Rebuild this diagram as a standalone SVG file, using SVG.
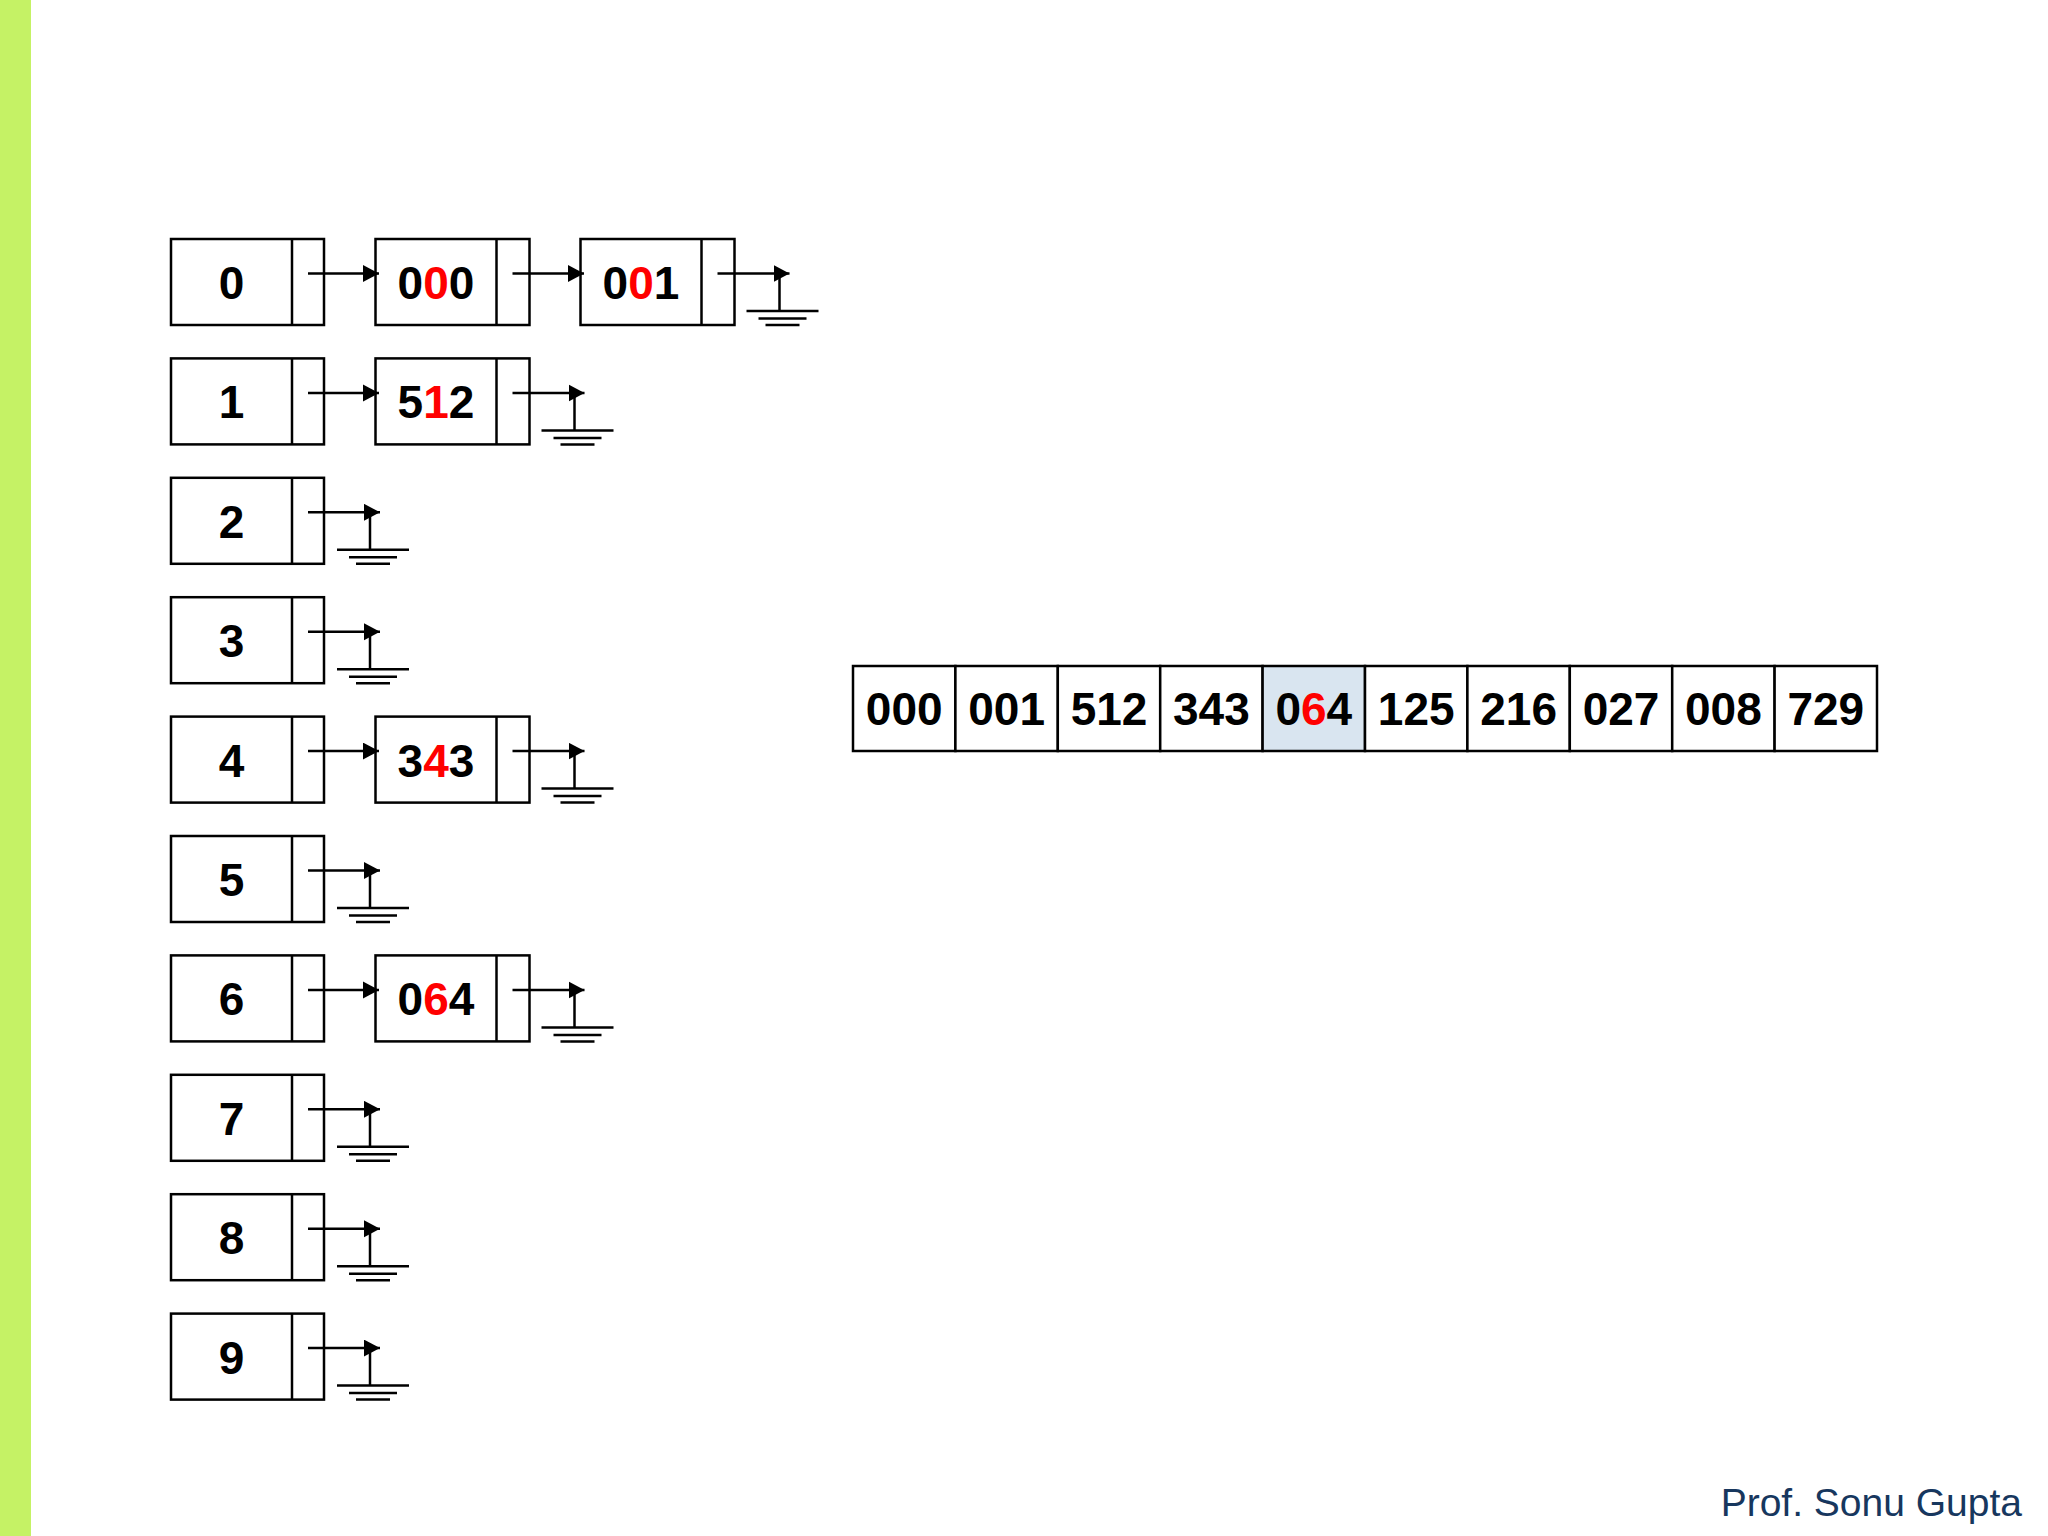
<svg xmlns="http://www.w3.org/2000/svg" width="2048" height="1536" viewBox="0 0 2048 1536">
<style>
.box{fill:#fff;stroke:#000;stroke-width:2.5}
.hl{fill:#D9E5F0;stroke:#000;stroke-width:2.5}
.ln{stroke:#000;stroke-width:2.5;fill:none}
.t{font-family:"Liberation Sans",Arial,sans-serif;font-weight:bold;font-size:46px;text-anchor:middle;fill:#000}
.r{fill:#FF0000}
.g{stroke:#000;stroke-width:2.5;fill:none}
</style>
<defs>
<marker id="ah" markerUnits="userSpaceOnUse" markerWidth="17" markerHeight="18" refX="16" refY="8.5" orient="auto">
<path d="M0,0 L16,8.5 L0,17 z" fill="#000"/>
</marker>
<g id="gnd">
<line class="g" x1="78" y1="34.5" x2="78" y2="72"/>
<line class="g" x1="45" y1="72" x2="117" y2="72"/>
<line class="g" x1="57" y1="79.5" x2="105" y2="79.5"/>
<line class="g" x1="64" y1="86" x2="98" y2="86"/>
</g>
</defs>
<rect x="0" y="0" width="31" height="1536" fill="#C5F265"/>

<!-- index boxes -->
<g id="idx0" transform="translate(0,239)"><rect class="box" x="171" y="0" width="153" height="86"/><line class="ln" x1="292" y1="0" x2="292" y2="86"/><text class="t" x="231.5" y="60">0</text></g>
<g id="idx1" transform="translate(0,358.4)"><rect class="box" x="171" y="0" width="153" height="86"/><line class="ln" x1="292" y1="0" x2="292" y2="86"/><text class="t" x="231.5" y="60">1</text></g>
<g id="idx2" transform="translate(0,477.8)"><rect class="box" x="171" y="0" width="153" height="86"/><line class="ln" x1="292" y1="0" x2="292" y2="86"/><text class="t" x="231.5" y="60">2</text></g>
<g id="idx3" transform="translate(0,597.2)"><rect class="box" x="171" y="0" width="153" height="86"/><line class="ln" x1="292" y1="0" x2="292" y2="86"/><text class="t" x="231.5" y="60">3</text></g>
<g id="idx4" transform="translate(0,716.6)"><rect class="box" x="171" y="0" width="153" height="86"/><line class="ln" x1="292" y1="0" x2="292" y2="86"/><text class="t" x="231.5" y="60">4</text></g>
<g id="idx5" transform="translate(0,836)"><rect class="box" x="171" y="0" width="153" height="86"/><line class="ln" x1="292" y1="0" x2="292" y2="86"/><text class="t" x="231.5" y="60">5</text></g>
<g id="idx6" transform="translate(0,955.4)"><rect class="box" x="171" y="0" width="153" height="86"/><line class="ln" x1="292" y1="0" x2="292" y2="86"/><text class="t" x="231.5" y="60">6</text></g>
<g id="idx7" transform="translate(0,1074.8)"><rect class="box" x="171" y="0" width="153" height="86"/><line class="ln" x1="292" y1="0" x2="292" y2="86"/><text class="t" x="231.5" y="60">7</text></g>
<g id="idx8" transform="translate(0,1194.2)"><rect class="box" x="171" y="0" width="153" height="86"/><line class="ln" x1="292" y1="0" x2="292" y2="86"/><text class="t" x="231.5" y="60">8</text></g>
<g id="idx9" transform="translate(0,1313.6)"><rect class="box" x="171" y="0" width="153" height="86"/><line class="ln" x1="292" y1="0" x2="292" y2="86"/><text class="t" x="231.5" y="60">9</text></g>

<!-- list nodes -->
<g id="n000" transform="translate(0,239)"><rect class="box" x="375.5" y="0" width="154" height="86"/><line class="ln" x1="496.5" y1="0" x2="496.5" y2="86"/><text class="t" x="436" y="60">0<tspan class="r">0</tspan>0</text></g>
<g id="n001" transform="translate(0,239)"><rect class="box" x="580.5" y="0" width="154" height="86"/><line class="ln" x1="701.5" y1="0" x2="701.5" y2="86"/><text class="t" x="641" y="60">0<tspan class="r">0</tspan>1</text></g>
<g id="n512" transform="translate(0,358.4)"><rect class="box" x="375.5" y="0" width="154" height="86"/><line class="ln" x1="496.5" y1="0" x2="496.5" y2="86"/><text class="t" x="436" y="60">5<tspan class="r">1</tspan>2</text></g>
<g id="n343" transform="translate(0,716.6)"><rect class="box" x="375.5" y="0" width="154" height="86"/><line class="ln" x1="496.5" y1="0" x2="496.5" y2="86"/><text class="t" x="436" y="60">3<tspan class="r">4</tspan>3</text></g>
<g id="n064" transform="translate(0,955.4)"><rect class="box" x="375.5" y="0" width="154" height="86"/><line class="ln" x1="496.5" y1="0" x2="496.5" y2="86"/><text class="t" x="436" y="60">0<tspan class="r">6</tspan>4</text></g>

<!-- array -->
<g id="array">
<rect class="box" x="853" y="666" width="102.4" height="85"/>
<rect class="box" x="955.4" y="666" width="102.4" height="85"/>
<rect class="box" x="1057.8" y="666" width="102.4" height="85"/>
<rect class="box" x="1160.2" y="666" width="102.4" height="85"/>
<rect class="hl" x="1262.6" y="666" width="102.4" height="85"/>
<rect class="box" x="1365" y="666" width="102.4" height="85"/>
<rect class="box" x="1467.4" y="666" width="102.4" height="85"/>
<rect class="box" x="1569.8" y="666" width="102.4" height="85"/>
<rect class="box" x="1672.2" y="666" width="102.4" height="85"/>
<rect class="box" x="1774.6" y="666" width="102.4" height="85"/>
<text class="t" x="904.2" y="725">000</text>
<text class="t" x="1006.6" y="725">001</text>
<text class="t" x="1109" y="725">512</text>
<text class="t" x="1211.4" y="725">343</text>
<text class="t" x="1313.8" y="725">0<tspan class="r">6</tspan>4</text>
<text class="t" x="1416.2" y="725">125</text>
<text class="t" x="1518.6" y="725">216</text>
<text class="t" x="1621" y="725">027</text>
<text class="t" x="1723.4" y="725">008</text>
<text class="t" x="1825.8" y="725">729</text>
</g>

<!-- connectors -->
<g id="connectors">
<g transform="translate(0,239)">
<line class="ln" x1="308" y1="34.5" x2="379" y2="34.5" marker-end="url(#ah)"/>
<line class="ln" x1="512.5" y1="34.5" x2="584" y2="34.5" marker-end="url(#ah)"/>
<line class="ln" x1="717.5" y1="34.5" x2="789.5" y2="34.5" marker-end="url(#ah)"/>
<use href="#gnd" x="701.5"/>
</g>
<g transform="translate(0,358.4)">
<line class="ln" x1="308" y1="34.5" x2="379" y2="34.5" marker-end="url(#ah)"/>
<line class="ln" x1="512.5" y1="34.5" x2="584.5" y2="34.5" marker-end="url(#ah)"/>
<use href="#gnd" x="496.5"/>
</g>
<g transform="translate(0,477.8)">
<line class="ln" x1="308" y1="34.5" x2="380" y2="34.5" marker-end="url(#ah)"/>
<use href="#gnd" x="292"/>
</g>
<g transform="translate(0,597.2)">
<line class="ln" x1="308" y1="34.5" x2="380" y2="34.5" marker-end="url(#ah)"/>
<use href="#gnd" x="292"/>
</g>
<g transform="translate(0,716.6)">
<line class="ln" x1="308" y1="34.5" x2="379" y2="34.5" marker-end="url(#ah)"/>
<line class="ln" x1="512.5" y1="34.5" x2="584.5" y2="34.5" marker-end="url(#ah)"/>
<use href="#gnd" x="496.5"/>
</g>
<g transform="translate(0,836)">
<line class="ln" x1="308" y1="34.5" x2="380" y2="34.5" marker-end="url(#ah)"/>
<use href="#gnd" x="292"/>
</g>
<g transform="translate(0,955.4)">
<line class="ln" x1="308" y1="34.5" x2="379" y2="34.5" marker-end="url(#ah)"/>
<line class="ln" x1="512.5" y1="34.5" x2="584.5" y2="34.5" marker-end="url(#ah)"/>
<use href="#gnd" x="496.5"/>
</g>
<g transform="translate(0,1074.8)">
<line class="ln" x1="308" y1="34.5" x2="380" y2="34.5" marker-end="url(#ah)"/>
<use href="#gnd" x="292"/>
</g>
<g transform="translate(0,1194.2)">
<line class="ln" x1="308" y1="34.5" x2="380" y2="34.5" marker-end="url(#ah)"/>
<use href="#gnd" x="292"/>
</g>
<g transform="translate(0,1313.6)">
<line class="ln" x1="308" y1="34.5" x2="380" y2="34.5" marker-end="url(#ah)"/>
<use href="#gnd" x="292"/>
</g>
</g>

<text x="2022" y="1516" font-family="'Liberation Sans',Arial,sans-serif" font-size="39" fill="#17375E" text-anchor="end">Prof. Sonu Gupta</text>
</svg>
